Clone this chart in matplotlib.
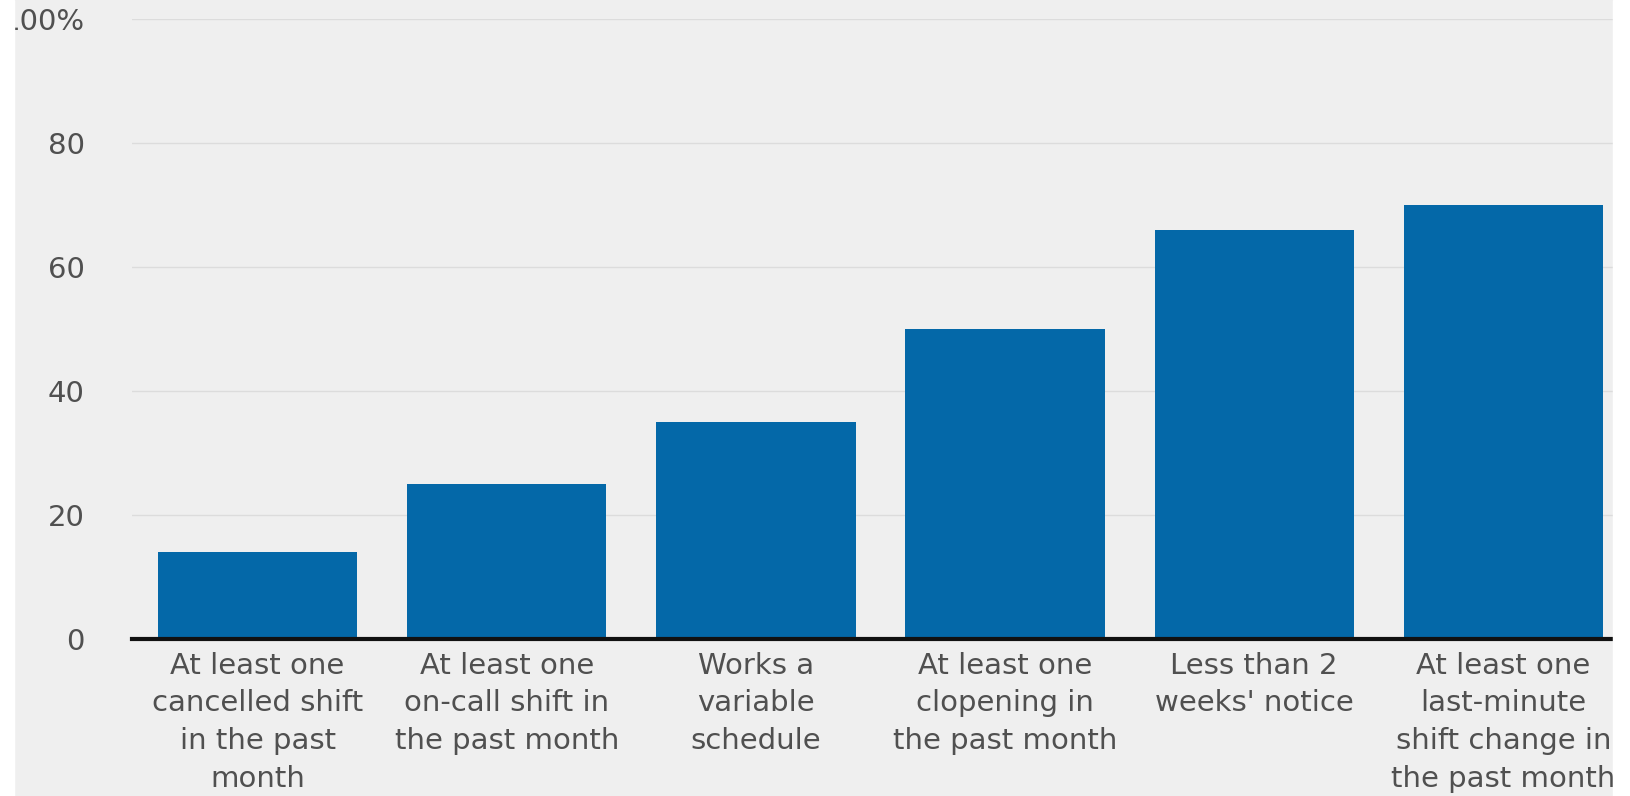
import matplotlib
matplotlib.use('Agg')
import matplotlib.pyplot as plt
from matplotlib.patches import Rectangle

categories = [
    "At least one\ncancelled shift\nin the past\nmonth",
    "At least one\non-call shift in\nthe past month",
    "Works a\nvariable\nschedule",
    "At least one\nclopening in\nthe past month",
    "Less than 2\nweeks' notice",
    "At least one\nlast-minute\nshift change in\nthe past month",
]
values = [14, 25, 35, 50, 66, 70]
yticks = [0, 20, 40, 60, 80, 100]
ytick_labels = ['0', '20', '40', '60', '80', '100%']

bg = '#efefef'
bar_color = '#0468a8'
text_color = '#505050'

plt.rcParams['font.family'] = ['DejaVu Sans']

fig = plt.figure(figsize=(16.31, 7.96), dpi=100, facecolor='white')
# grey panel, with white strips at the left and right edges
fig.patches.append(Rectangle((14 / 1631, 0), (1613 - 14) / 1631, 1,
                             transform=fig.transFigure, color=bg, zorder=-10))

ax = fig.add_axes([132 / 1631, 157 / 796, (1613 - 132) / 1631, (639 - 19) / 796])
ax.set_facecolor(bg)

x = list(range(len(categories)))
ax.bar(x, values, width=0.8, color=bar_color, zorder=3)

ax.set_xlim(-0.504, 5.44)
ax.set_ylim(0, 100)
ax.set_yticks(yticks)
ax.set_yticklabels(ytick_labels)
ax.set_xticks(x)
ax.set_xticklabels(categories, linespacing=1.45)

ax.grid(axis='y', color='#dcdcdc', linewidth=1, zorder=0)
ax.axhline(0, color='#111111', linewidth=3, zorder=4, clip_on=False)

for s in ax.spines.values():
    s.set_visible(False)

ax.tick_params(axis='both', length=0, colors=text_color, labelsize=21)
ax.tick_params(axis='y', pad=34)
ax.tick_params(axis='x', pad=9)

# white strips drawn above everything to crop like the reference
fig.patches.append(Rectangle((0, 0), 14 / 1631, 1, transform=fig.transFigure,
                             color='white', zorder=20))
fig.patches.append(Rectangle((1613 / 1631, 0), 1 - 1613 / 1631, 1,
                             transform=fig.transFigure, color='white', zorder=20))

fig.savefig('out.png', dpi=100, facecolor='white')
